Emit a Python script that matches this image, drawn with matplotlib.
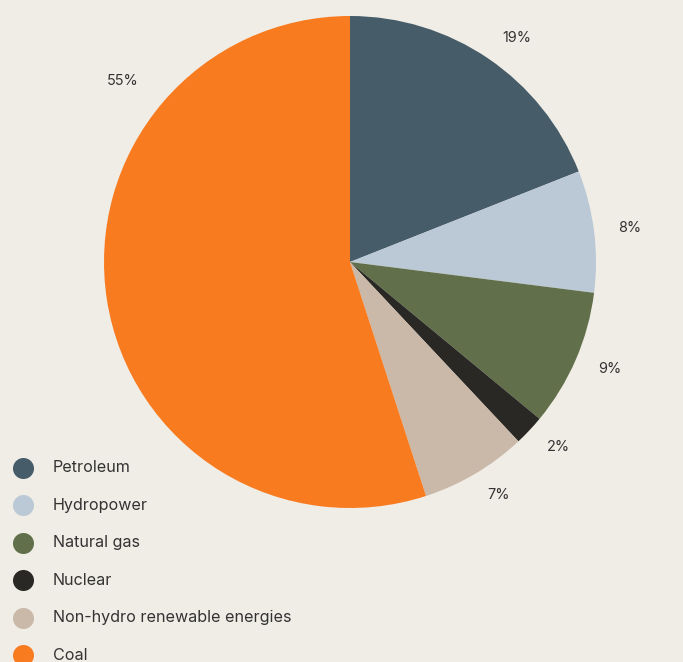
import numpy as np
import matplotlib.pyplot as plt

# energy mix shares (%)
sources = ['Petroleum', 'Hydropower', 'Natural gas', 'Nuclear',
           'Non-hydro renewable energies', 'Coal']
shares = [19, 8, 9, 2, 7, 55]
colors = ['#465C69', '#BBC9D6', '#61704A', '#292824', '#CAB8A8', '#F87B20']

BG = '#F0EDE6'
TXT = '#333333'
plt.rcParams['font.family'] = ['Inter', 'DejaVu Sans']

W, H = 683, 662
fig = plt.figure(figsize=(W / 100, H / 100), dpi=100, facecolor=BG)

# pie axes, centre and radius in pixels
cx, cy, r = 350, 262, 246
ax = fig.add_axes([(cx - r) / W, 1 - (cy + r) / H, 2 * r / W, 2 * r / H])
ax.set_facecolor(BG)
wedges, _ = ax.pie(shares, colors=colors, startangle=90, counterclock=False,
                   radius=1, wedgeprops=dict(linewidth=0))
ax.set_xlim(-1, 1)
ax.set_ylim(-1, 1)
ax.set_aspect('equal')
ax.axis('off')

# percentage labels just outside each slice, anchored on the side facing the pie
for i, w in enumerate(wedges):
    ang = np.deg2rad((w.theta1 + w.theta2) / 2)
    dist = 1.10
    if sources[i] == 'Coal':
        # big slice: label pushed up-left rather than at the mid angle
        ang = np.deg2rad(139.4)
        dist = 1.13
    x, y = dist * np.cos(ang), dist * np.sin(ang)
    ax.text(x, y, f'{shares[i]}%', ha='left' if x > 0 else 'right',
            va='center', fontsize=10.4, color=TXT, clip_on=False)

# legend drawn in pixel coordinates
lg = fig.add_axes([0, 0, 1, 1], zorder=-1)
lg.set_xlim(0, W)
lg.set_ylim(H, 0)
lg.axis('off')
lg.patch.set_alpha(0)
for i, (name, c) in enumerate(zip(sources, colors)):
    y = 468 + i * 37.4
    lg.scatter(23, y, s=21 ** 2 * 0.52, color=c, linewidths=0, clip_on=False)
    lg.text(53, y, name, ha='left', va='center', fontsize=11.6, color=TXT)

fig.savefig('out.png', dpi=100, facecolor=BG)
